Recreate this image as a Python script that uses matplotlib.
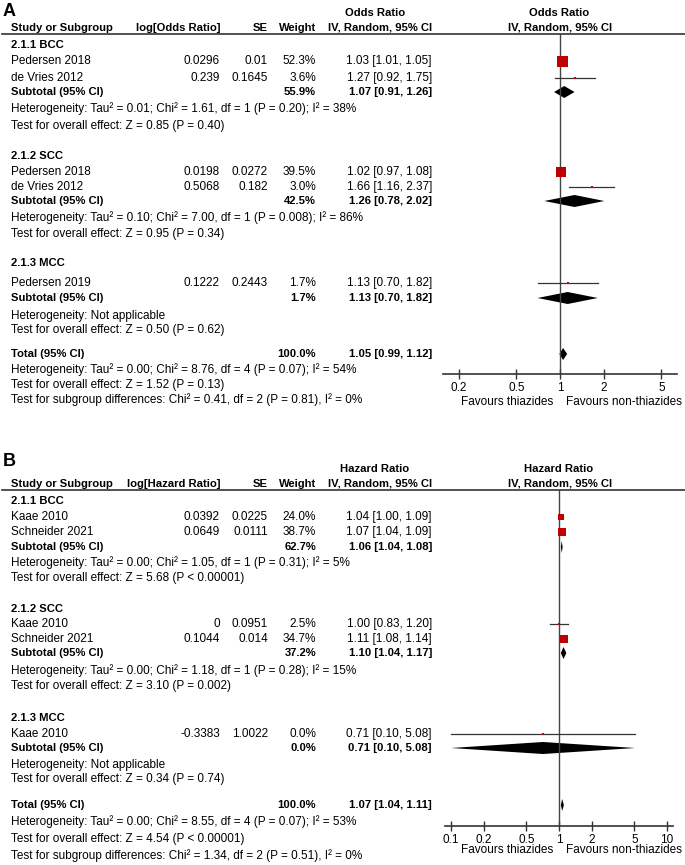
import matplotlib.pyplot as plt
from matplotlib.ticker import FixedLocator, NullLocator, FuncFormatter

plt.rcParams['font.family'] = ['Liberation Sans', 'DejaVu Sans']
FS = 8.5
FSB = 8.1
RED = '#c00000'
W, H = 685, 865

# ---------------- panel A data (odds ratio)
a_groups = ['2.1.1 BCC', '2.1.2 SCC', '2.1.3 MCC']
a_studies = [['Pedersen 2018', 'de Vries 2012'], ['Pedersen 2018', 'de Vries 2012'], ['Pedersen 2019']]
a_log = [[0.0296, 0.239], [0.0198, 0.5068], [0.1222]]
a_se = [[0.01, 0.1645], [0.0272, 0.182], [0.2443]]
a_weight = [[52.3, 3.6], [39.5, 3.0], [1.7]]
a_est = [[1.03, 1.27], [1.02, 1.66], [1.13]]
a_lo = [[1.01, 0.92], [0.97, 1.16], [0.70]]
a_hi = [[1.05, 1.75], [1.08, 2.37], [1.82]]
a_sub_weight = [55.9, 42.5, 1.7]
a_sub_est = [1.07, 1.26, 1.13]
a_sub_lo = [0.91, 0.78, 0.70]
a_sub_hi = [1.26, 2.02, 1.82]
a_het = ['Heterogeneity: Tau² = 0.01; Chi² = 1.61, df = 1 (P = 0.20); I² = 38%',
         'Heterogeneity: Tau² = 0.10; Chi² = 7.00, df = 1 (P = 0.008); I² = 86%',
         'Heterogeneity: Not applicable']
a_test = ['Test for overall effect: Z = 0.85 (P = 0.40)',
          'Test for overall effect: Z = 0.95 (P = 0.34)',
          'Test for overall effect: Z = 0.50 (P = 0.62)']
a_total = [1.05, 0.99, 1.12]
a_total_lines = ['Heterogeneity: Tau² = 0.00; Chi² = 8.76, df = 4 (P = 0.07); I² = 54%',
                 'Test for overall effect: Z = 1.52 (P = 0.13)',
                 'Test for subgroup differences: Chi² = 0.41, df = 2 (P = 0.81), I² = 0%']
a_ticks = [0.2, 0.5, 1, 2, 5]

# ---------------- panel B data (hazard ratio)
b_groups = ['2.1.1 BCC', '2.1.2 SCC', '2.1.3 MCC']
b_studies = [['Kaae 2010', 'Schneider 2021'], ['Kaae 2010', 'Schneider 2021'], ['Kaae 2010']]
b_log = [[0.0392, 0.0649], [0, 0.1044], [-0.3383]]
b_se = [[0.0225, 0.0111], [0.0951, 0.014], [1.0022]]
b_weight = [[24.0, 38.7], [2.5, 34.7], [0.0]]
b_est = [[1.04, 1.07], [1.00, 1.11], [0.71]]
b_lo = [[1.00, 1.04], [0.83, 1.08], [0.10]]
b_hi = [[1.09, 1.09], [1.20, 1.14], [5.08]]
b_sub_weight = [62.7, 37.2, 0.0]
b_sub_est = [1.06, 1.10, 0.71]
b_sub_lo = [1.04, 1.04, 0.10]
b_sub_hi = [1.08, 1.17, 5.08]
b_het = ['Heterogeneity: Tau² = 0.00; Chi² = 1.05, df = 1 (P = 0.31); I² = 5%',
         'Heterogeneity: Tau² = 0.00; Chi² = 1.18, df = 1 (P = 0.28); I² = 15%',
         'Heterogeneity: Not applicable']
b_test = ['Test for overall effect: Z = 5.68 (P < 0.00001)',
          'Test for overall effect: Z = 3.10 (P = 0.002)',
          'Test for overall effect: Z = 0.34 (P = 0.74)']
b_total = [1.07, 1.04, 1.11]
b_total_lines = ['Heterogeneity: Tau² = 0.00; Chi² = 8.55, df = 4 (P = 0.07); I² = 53%',
                 'Test for overall effect: Z = 4.54 (P < 0.00001)',
                 'Test for subgroup differences: Chi² = 1.34, df = 2 (P = 0.51), I² = 0%']
b_ticks = [0.1, 0.2, 0.5, 1, 2, 5, 10]

# ---------------- layout (pixel rows)
a_layout = dict(letter=12, h1=13, h2=28, line=34,
                groups=[(45, [61, 78], 92, 109, 126),
                        (156, [172, 187], 201, 218, 234),
                        (263, [283], 298, 316, 330)],
                total=354, total_lines=[370, 385, 400],
                axis=374, fav=402, x0=443, x1=677, decade=145, smax=11)
b_layout = dict(letter=461, h1=469, h2=484, line=490,
                groups=[(501, [517, 532], 547, 563, 578),
                        (609, [624, 639], 653, 671, 686),
                        (718, [734], 748, 765, 779)],
                total=805, total_lines=[822, 839, 856],
                axis=826, fav=850, x0=445, x1=673, decade=108, smax=8)

fig = plt.figure(figsize=(W / 100, H / 100), dpi=100)
bg = fig.add_axes([0, 0, 1, 1])
bg.set_xlim(0, W)
bg.set_ylim(H, 0)
bg.axis('off')


def txt(x, y, s, ha='left', bold=False, size=None):
    if size is None:
        size = FSB if bold else FS
    bg.text(x, y, s, ha=ha, va='center', fontsize=size,
            fontweight='bold' if bold else 'normal')


def fmt_ci(e, l, h):
    return f'{e:.2f} [{l:.2f}, {h:.2f}]'


def draw_panel(letter, measure, L, groups, studies, logs, ses, weights, est, lo, hi,
               sub_w, sub_e, sub_lo, sub_hi, hets, tests, total, total_lines, ticks):
    txt(3, L['letter'], letter, bold=True, size=13)
    txt(375, L['h1'], measure, ha='center', bold=True)
    txt(559, L['h1'], measure, ha='center', bold=True)
    txt(11, L['h2'], 'Study or Subgroup', bold=True)
    txt(221, L['h2'], f'log[{measure}]', ha='right', bold=True)
    txt(268, L['h2'], 'SE', ha='right', bold=True)
    txt(316, L['h2'], 'Weight', ha='right', bold=True)
    txt(432, L['h2'], 'IV, Random, 95% CI', ha='right', bold=True)
    txt(560, L['h2'], 'IV, Random, 95% CI', ha='center', bold=True)
    bg.plot([2, W], [L['line'], L['line']], color='#333333', lw=1.2)

    # forest axes, y in pixel rows
    x0, x1 = L['x0'], L['x1']
    r = (x1 - x0) / 2 / L['decade']
    ax = fig.add_axes([x0 / W, 1 - L['axis'] / H, (x1 - x0) / W, (L['axis'] - L['line']) / H])
    ax.set_xscale('log')
    ax.set_xlim(10 ** -r, 10 ** r)
    ax.set_ylim(L['axis'], L['line'])
    ax.patch.set_alpha(0)
    for s in ['left', 'right', 'top']:
        ax.spines[s].set_visible(False)
    ax.spines['bottom'].set_color('#333333')
    ax.spines['bottom'].set_linewidth(1.2)
    ax.set_yticks([])
    ax.xaxis.set_major_locator(FixedLocator(ticks))
    ax.xaxis.set_minor_locator(NullLocator())
    ax.xaxis.set_major_formatter(FuncFormatter(lambda v, p: f'{v:g}'))
    ax.tick_params(axis='x', direction='inout', length=7, width=1, color='#333333',
                   labelsize=FS, pad=2)
    ax.axvline(1, color='#444444', lw=1)

    wmax = max(max(w) for w in weights)

    def diamond(y, e, l, h, hh=6):
        ax.fill([l, e, h, e], [y, y - hh, y, y + hh], color='black', lw=0)

    for g in range(len(groups)):
        yh, ys, ysub, yhet, ytest = L['groups'][g]
        txt(11, yh, groups[g], bold=True)
        for i, name in enumerate(studies[g]):
            y = ys[i]
            txt(11, y, name)
            txt(220, y, f'{logs[g][i]:g}', ha='right')
            txt(268, y, f'{ses[g][i]:g}', ha='right')
            txt(316, y, f'{weights[g][i]:.1f}%', ha='right')
            txt(432, y, fmt_ci(est[g][i], lo[g][i], hi[g][i]), ha='right')
            ax.plot([lo[g][i], hi[g][i]], [y, y], color='#333333', lw=0.9)
            side = max(2, L['smax'] * (weights[g][i] / wmax) ** 0.5)
            ax.plot(est[g][i], y, 's', ms=side * 0.72, color=RED, mec=RED, mew=0)
        txt(11, ysub, 'Subtotal (95% CI)', bold=True)
        txt(316, ysub, f'{sub_w[g]:.1f}%', ha='right', bold=True)
        txt(432, ysub, fmt_ci(sub_e[g], sub_lo[g], sub_hi[g]), ha='right', bold=True)
        diamond(ysub, sub_e[g], sub_lo[g], sub_hi[g])
        txt(11, yhet, hets[g])
        txt(11, ytest, tests[g])

    yt = L['total']
    txt(11, yt, 'Total (95% CI)', bold=True)
    txt(316, yt, '100.0%', ha='right', bold=True)
    txt(432, yt, fmt_ci(*total), ha='right', bold=True)
    diamond(yt, *total)
    for y, s in zip(L['total_lines'], total_lines):
        txt(11, y, s)

    txt(507, L['fav'], 'Favours thiazides', ha='center')
    txt(624, L['fav'], 'Favours non-thiazides', ha='center')


draw_panel('A', 'Odds Ratio', a_layout, a_groups, a_studies, a_log, a_se, a_weight,
           a_est, a_lo, a_hi, a_sub_weight, a_sub_est, a_sub_lo, a_sub_hi,
           a_het, a_test, a_total, a_total_lines, a_ticks)
draw_panel('B', 'Hazard Ratio', b_layout, b_groups, b_studies, b_log, b_se, b_weight,
           b_est, b_lo, b_hi, b_sub_weight, b_sub_est, b_sub_lo, b_sub_hi,
           b_het, b_test, b_total, b_total_lines, b_ticks)

fig.savefig('out.png', dpi=100)
